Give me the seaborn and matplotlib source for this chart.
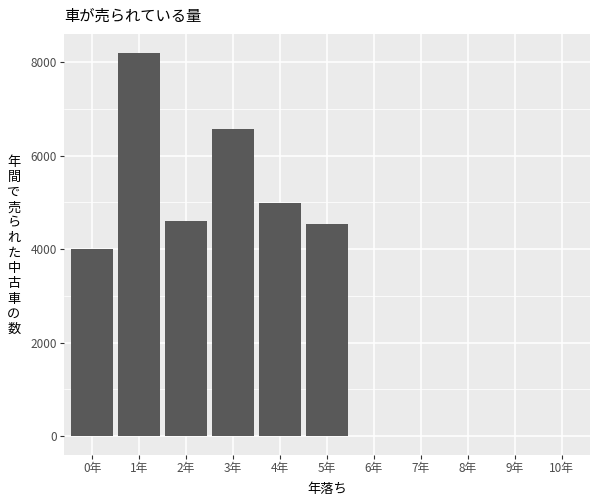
import matplotlib
matplotlib.use("Agg")
import matplotlib.pyplot as plt
import seaborn as sns
import pandas as pd
from matplotlib.ticker import MultipleLocator

categories = ["0年", "1年", "2年", "3年", "4年", "5年", "6年", "7年", "8年", "9年", "10年"]
bar_cats = ["0年", "1年", "2年", "3年", "4年", "5年"]
counts = [4000, 8200, 4600, 6580, 4980, 4530]
yticks = [0, 2000, 4000, 6000, 8000]

title = "車が売られている量"
xlabel = "年落ち"
ylabel = "年間で売られた中古車の数"

sns.set_theme(style="darkgrid")
plt.rcParams['font.family'] = ['Noto Sans CJK JP', 'DejaVu Sans']

df = pd.DataFrame({"cat": bar_cats, "n": counts})

fig = plt.figure(figsize=(6, 5), dpi=100)
ax = fig.add_axes([64/600, 1-455/500, (590-64)/600, (455-34)/500])
ax.set_facecolor("#EBEBEB")

sns.barplot(data=df, x="cat", y="n", order=categories, color="#595959",
            saturation=1, width=0.9, ax=ax, zorder=3, linewidth=0, edgecolor="none")

ax.set_xlim(-0.6, len(categories) - 1 + 0.6)
ax.set_ylim(-410, 8610)
ax.set_yticks(yticks)
ax.yaxis.set_minor_locator(MultipleLocator(1000))
ax.grid(which="major", color="white", linewidth=1.1, zorder=0)
ax.grid(which="minor", axis="y", color="white", linewidth=0.55, zorder=0)
ax.set_axisbelow(True)
for s in ax.spines.values():
    s.set_visible(False)

ax.tick_params(axis="both", which="major", length=3, width=0.8, color="#333333",
               labelsize=8.5, labelcolor="#4D4D4D", pad=2, bottom=True, left=True)
ax.tick_params(axis="both", which="minor", length=0)

ax.set_xlabel(xlabel, fontsize=9.5, color="black", labelpad=6)
ax.set_ylabel("")
fig.text(14/600, 1-246/500, "\n".join(ylabel), rotation=0, ha="center", va="center",
         fontsize=9.5, linespacing=1.22, color="black")
fig.text(64/600, 1-16/500, title, ha="left", va="center", fontsize=11, color="black")

fig.savefig("out.png", dpi=100, facecolor="white")
